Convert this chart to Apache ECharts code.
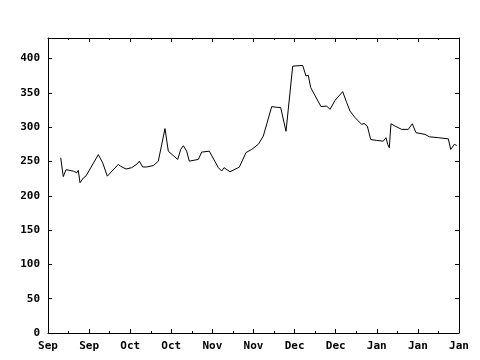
<!DOCTYPE html>
<html>
<head>
<meta charset="utf-8">
<script src="https://cdn.jsdelivr.net/npm/echarts@6/dist/echarts.min.js"></script>
<style>html,body{margin:0;padding:0;background:#fff}#c{width:480px;height:360px}</style>
</head>
<body>
<div id="c"></div>
<script>
var xTickLabels = ['Sep','Sep','Oct','Oct','Nov','Nov','Dec','Dec','Jan','Jan','Jan'];
var xPos = [0.309,0.372,0.438,0.616,0.698,0.737,0.779,0.859,0.925,1.224,1.331,1.443,1.710,1.769,1.898,2.036,2.173,2.221,2.304,2.401,2.562,2.684,2.708,2.847,2.927,3.156,3.229,3.292,3.375,3.438,3.657,3.740,3.925,4.144,4.226,4.282,4.428,4.655,4.818,4.956,5.117,5.238,5.443,5.564,5.662,5.791,5.954,6.197,6.277,6.333,6.392,6.642,6.781,6.861,6.983,7.170,7.268,7.348,7.470,7.633,7.689,7.769,7.852,7.998,8.158,8.224,8.265,8.304,8.345,8.443,8.606,8.766,8.864,8.954,9.173,9.277,9.496,9.740,9.798,9.886,9.944];
var values = [255.5,228,238,236,233.5,237,219,226,229,260,248,228.6,245.7,243,239,241,246.7,250.5,242,242,244,250.5,253,298,265,253,267.6,273,265,250.5,253,263.7,265,241,236,241,235,241.8,263,267.6,275,287,330,329,328.5,294,389,390,374.6,375.6,357.7,330,330.8,326,339,351.8,335.8,323.5,314,304,305.5,301.6,282,280.7,279.7,284.7,275,270,305,301.6,296.8,296.8,305,292,289.5,286,284.7,283,267.6,275,273.4];

var pts = xPos.map(function(x,i){return [x, values[i]];});
var font = {fontFamily:'DejaVu Sans Mono', fontWeight:'bold', fontSize:11, color:'#000'};
var chart = echarts.init(document.getElementById('c'));
chart.setOption({
  animation:false,
  backgroundColor:'#fff',
  grid:{left:48,right:21,top:38,bottom:27,containLabel:false},
  xAxis:[{
    type:'value',min:0,max:10,interval:1,position:'bottom',
    axisLine:{show:true,onZero:false,lineStyle:{color:'#000',width:1}},
    axisTick:{show:true,inside:true,length:4,lineStyle:{color:'#000'}},
    minorTick:{show:true,splitNumber:2,length:2,lineStyle:{color:'#000'}},
    splitLine:{show:false},
    axisLabel:Object.assign({margin:8,formatter:function(v){return xTickLabels[Math.round(v)]||'';}},font)
  },{
    type:'value',min:0,max:10,interval:1,position:'top',
    axisLine:{show:true,onZero:false,lineStyle:{color:'#000',width:1}},
    axisTick:{show:true,inside:true,length:4,lineStyle:{color:'#000'}},
    minorTick:{show:true,splitNumber:2,length:2,lineStyle:{color:'#000'}},
    splitLine:{show:false},axisLabel:{show:false}
  }],
  yAxis:[{
    type:'value',min:0,max:430,interval:50,position:'left',
    axisLine:{show:true,onZero:false,lineStyle:{color:'#000',width:1}},
    axisTick:{show:true,inside:true,length:4,lineStyle:{color:'#000'}},
    splitLine:{show:false},
    axisLabel:Object.assign({margin:8,showMaxLabel:false},font)
  },{
    type:'value',min:0,max:430,interval:50,position:'right',
    axisLine:{show:true,onZero:false,lineStyle:{color:'#000',width:1}},
    axisTick:{show:true,inside:true,length:4,lineStyle:{color:'#000'}},
    splitLine:{show:false},axisLabel:{show:false}
  }],
  series:[{
    type:'line',xAxisIndex:0,yAxisIndex:0,data:pts,showSymbol:false,symbol:'none',
    lineStyle:{color:'#000',width:1},silent:true
  }]
});
</script>
</body>
</html>
